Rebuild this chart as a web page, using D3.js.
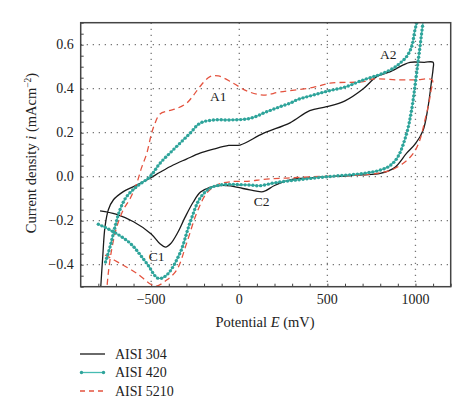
<!DOCTYPE html>
<html><head><meta charset="utf-8">
<script src="https://cdn.jsdelivr.net/npm/d3@7"></script>
<style>
html,body{margin:0;padding:0;background:#fff;}
text{font-family:"Liberation Serif","DejaVu Serif",serif;fill:#222;}
</style></head>
<body><svg id="c" width="474" height="418"></svg>
<script>
// ---- data (potential in mV, current density in mA/cm^2) ----
const seriesNames = ["AISI 304", "AISI 420", "AISI 5210"];
const E304 = [-790,-700,-600,-500,-450,-418,-390,-350,-308,-261,-220,-170,-110,-50,0,60,136,200,300,400,500,600,700,800,880,950,1000,1043,1070,1092,1100,1100,1050,969,931,850,780,704,600,496,400,288,136,4,-60,-147,-223,-300,-375,-450,-507,-600,-658,-715,-743,-762,-775,-790];
const I304 = [-0.155,-0.17,-0.205,-0.26,-0.305,-0.32,-0.305,-0.255,-0.185,-0.115,-0.07,-0.05,-0.04,-0.042,-0.05,-0.06,-0.068,-0.04,-0.012,-0.005,0.0,0.003,0.008,0.015,0.04,0.107,0.15,0.21,0.31,0.44,0.49,0.52,0.52,0.52,0.508,0.475,0.455,0.4,0.345,0.318,0.3,0.245,0.197,0.144,0.142,0.125,0.107,0.08,0.053,0.02,-0.007,-0.045,-0.068,-0.106,-0.15,-0.227,-0.364,-0.55];
const E420 = [-800,-715,-620,-525,-460,-412,-337,-280,-223,-166,-110,-53,60,117,200,326,500,704,800,855,900,950,978,997,1016,1035,1048,1040,1015,1007,997,978,950,912,874,799,704,610,496,420,326,288,231,155,61,-53,-147,-223,-280,-375,-450,-507,-582,-639,-677,-705,-733,-760];
const I420 = [-0.216,-0.25,-0.302,-0.394,-0.462,-0.447,-0.348,-0.21,-0.098,-0.052,-0.038,-0.035,-0.038,-0.041,-0.028,-0.015,0.0,0.015,0.03,0.05,0.09,0.197,0.303,0.41,0.53,0.652,0.75,0.8,0.78,0.7,0.667,0.59,0.546,0.516,0.493,0.465,0.44,0.41,0.388,0.371,0.349,0.334,0.318,0.295,0.265,0.258,0.258,0.243,0.197,0.122,0.061,0.0,-0.045,-0.09,-0.15,-0.227,-0.318,-0.39];
const E5210 = [-762,-677,-582,-500,-470,-412,-355,-299,-242,-185,-128,-53,61,136,300,514,704,799,855,931,988,1025,1054,1075,1088,1095,1000,900,761,704,515,420,231,136,42,-34,-119,-166,-223,-260,-299,-355,-400,-450,-480,-500,-525,-555,-582,-620,-658,-696,-724,-745,-755];
const I5210 = [-0.356,-0.394,-0.439,-0.49,-0.497,-0.47,-0.424,-0.303,-0.166,-0.075,-0.038,-0.023,-0.02,-0.012,-0.005,0.003,0.008,0.018,0.028,0.061,0.106,0.167,0.258,0.33,0.39,0.44,0.44,0.44,0.444,0.432,0.425,0.406,0.385,0.371,0.39,0.425,0.458,0.455,0.41,0.37,0.334,0.31,0.3,0.285,0.24,0.19,0.106,0.04,-0.03,-0.1,-0.15,-0.23,-0.33,-0.45,-0.55];
const xTicks = [-500, 0, 500, 1000];
const yTicks = [-0.4, -0.2, 0.0, 0.2, 0.4, 0.6];
const annotations = [["A1",-119,0.343],["A2",846,0.533],["C1",-469,-0.383],["C2",127,-0.133]];

// ---- layout ----
const svg = d3.select("#c");
const L = 80.7, R = 450.7, T = 22.7, B = 286.7;
const x = d3.scaleLinear().domain([-900, 1200]).range([L, R]);
const y = d3.scaleLinear().domain([-0.5, 0.7]).range([B, T]);
const fmtY = v => (v < 0 ? "\u2212" : "") + Math.abs(v).toFixed(1);
const fmtX = v => (v < 0 ? "\u2212" : "") + Math.abs(v);

svg.append("defs").append("clipPath").attr("id","clip")
  .append("rect").attr("x",L).attr("y",T).attr("width",R-L).attr("height",B-T);

// grid
const grid = svg.append("g").attr("stroke","#777").attr("stroke-width",1.3).attr("stroke-dasharray","1.3,4.7");
grid.selectAll(".gx").data(xTicks).join("line").attr("x1",d=>x(d)).attr("x2",d=>x(d)).attr("y1",T).attr("y2",B);
grid.selectAll(".gy").data(yTicks).join("line").attr("y1",d=>y(d)).attr("y2",d=>y(d)).attr("x1",L).attr("x2",R);

// axes (ticks inward)
const xAxis = d3.axisBottom(x).tickValues(d3.range(-800, 1201, 100)).tickSize(-3).tickFormat("");
const yAxis = d3.axisLeft(y).tickValues(d3.range(-0.5, 0.7001, 0.05)).tickSize(-3).tickFormat("");
svg.append("g").attr("transform",`translate(0,${B})`).call(xAxis).call(g=>{g.select(".domain").remove();g.selectAll("line").attr("stroke","#444");});
svg.append("g").attr("transform",`translate(${L},0)`).call(yAxis).call(g=>{g.select(".domain").remove();g.selectAll("line").attr("stroke","#444");});

// tick labels
svg.selectAll(".xl").data(xTicks).join("text").attr("x",d=>x(d)).attr("y",B+17)
  .attr("text-anchor","middle").attr("font-size",14).text(fmtX);
svg.selectAll(".yl").data(yTicks).join("text").attr("x",L-7).attr("y",d=>y(d)+4.6)
  .attr("text-anchor","end").attr("font-size",14).text(fmtY);

// axis titles
const xt = svg.append("text").attr("x",265).attr("y",B+40).attr("text-anchor","middle").attr("font-size",14.5);
xt.append("tspan").text("Potential ");
xt.append("tspan").attr("font-style","italic").text("E");
xt.append("tspan").text(" (mV)");
const yt = svg.append("text").attr("transform",`translate(36,153) rotate(-90)`).attr("text-anchor","middle").attr("font-size",14.5);
yt.append("tspan").text("Current density ");
yt.append("tspan").attr("font-style","italic").text("i");
yt.append("tspan").text(" (mAcm");
yt.append("tspan").attr("font-size",9.5).attr("dy",-5.5).text("\u22122");
yt.append("tspan").attr("dy",5.5).text(")");

// curves
const line = d3.line().x(d=>x(d[0])).y(d=>y(d[1])).curve(d3.curveCatmullRom.alpha(0.5));
const plot = svg.append("g").attr("clip-path","url(#clip)");
const d304 = d3.zip(E304, I304), d420 = d3.zip(E420, I420), d5210 = d3.zip(E5210, I5210);
plot.append("path").attr("d",line(d304)).attr("fill","none").attr("stroke","#1a1a1a").attr("stroke-width",1.3);
plot.append("path").attr("d",line(d5210)).attr("fill","none").attr("stroke","#e4533f").attr("stroke-width",1.3).attr("stroke-dasharray","6,4");
const tealPath = plot.append("path").attr("d",line(d420)).attr("fill","none").attr("stroke","#46bcb2").attr("stroke-width",1.2);
const node = tealPath.node(), len = node.getTotalLength();
const marks = [];
for (let s = 0; s <= len; s += 3.9) { const p = node.getPointAtLength(s); if (p.x>=L && p.x<=R && p.y>=T && p.y<=B) marks.push(p); }
plot.selectAll(".mk").data(marks).join("circle").attr("cx",d=>d.x).attr("cy",d=>d.y).attr("r",1.7).attr("fill","#2fa39a");

// frame
svg.append("rect").attr("x",L).attr("y",T).attr("width",R-L).attr("height",B-T).attr("fill","none").attr("stroke","#444").attr("stroke-width",1.5);

// annotations
svg.selectAll(".an").data(annotations).join("text").attr("x",d=>x(d[1])).attr("y",d=>y(d[2])).attr("text-anchor","middle").attr("font-size",13.5).text(d=>d[0]);

// legend
const lg = svg.append("g");
[0,1,2].forEach(i=>{
  const yy = 354 + i*18.5;
  const ln = lg.append("line").attr("x1",80).attr("x2",105).attr("y1",yy).attr("y2",yy).attr("stroke-width",1.3);
  if (i===0) ln.attr("stroke","#1a1a1a");
  if (i===1) { ln.attr("stroke","#46bcb2"); lg.selectAll(".ld").data([81.5,103.5]).join("circle").attr("cx",d=>d).attr("cy",yy).attr("r",1.7).attr("fill","#2fa39a"); }
  if (i===2) ln.attr("stroke","#e4533f").attr("stroke-dasharray","5,4");
  lg.append("text").attr("x",115).attr("y",yy+4.6).attr("font-size",14).text(seriesNames[i]);
});
</script></body></html>
